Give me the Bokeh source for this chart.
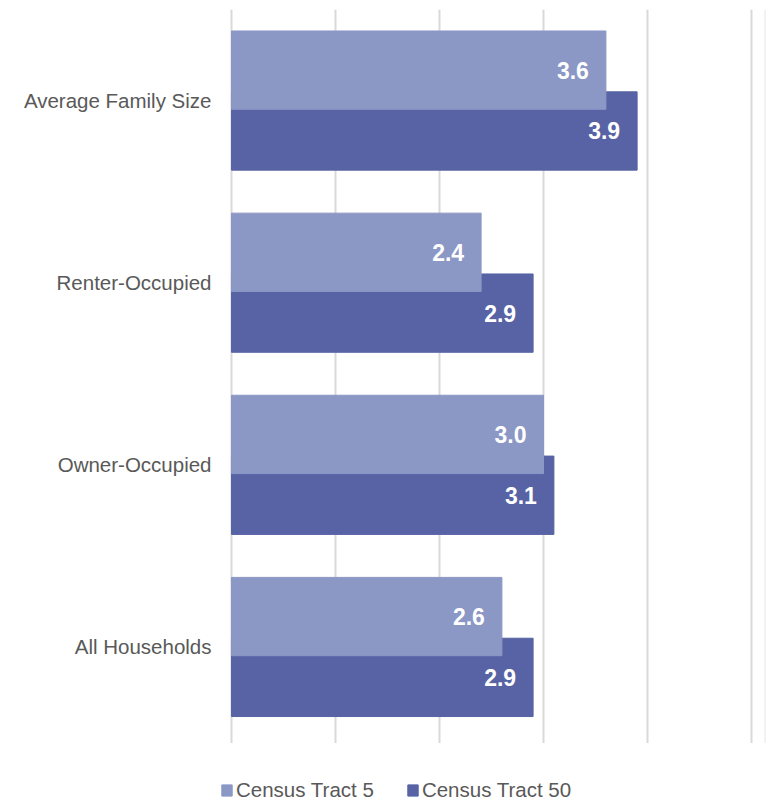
from bokeh.plotting import figure
from bokeh.layouts import column
from bokeh.models import (Range1d, FixedTicker, Legend, LegendItem,
                          ColumnDataSource, Span)
from bokeh.core.properties import value
from bokeh.embed import file_html
from bokeh.resources import INLINE

# ---- data ----
categories = ["Average Family Size", "Renter-Occupied", "Owner-Occupied", "All Households"]
tract5 = [3.6, 2.4, 3.0, 2.6]
tract50 = [3.9, 2.9, 3.1, 2.9]
series_names = ["Census Tract 5", "Census Tract 50"]
xticks = [0, 1, 2, 3, 4, 5]

# ---- styling ----
LIGHT = "#8b97c5"
DARK = "#5763a4"
SANS = "Liberation Sans"

n = len(categories)
ypos = [n - 1 - i + 0.5 for i in range(n)]
off = 0.167
h = 0.43

src5 = ColumnDataSource(dict(y=[y + off for y in ypos], v=tract5,
                             lab=[f"{v:.1f}" for v in tract5]))
src50 = ColumnDataSource(dict(y=[y - off for y in ypos], v=tract50,
                              lab=[f"{v:.1f}" for v in tract50]))

p = figure(width=766, height=743, x_range=Range1d(-0.144, 5.144), y_range=Range1d(-0.03, 4.0),
           output_backend="svg", toolbar_location=None,
           min_border_left=216, min_border_right=0, min_border_top=9, min_border_bottom=0)
p.outline_line_color = None
p.background_fill_color = "white"
p.border_fill_color = "white"

r50 = p.hbar(y="y", right="v", left=0, height=h, source=src50,
             fill_color=DARK, line_color=DARK, line_width=1)
r5 = p.hbar(y="y", right="v", left=0, height=h, source=src5,
            fill_color=LIGHT, line_color=LIGHT, line_width=1)

for src in (src50, src5):
    p.text(x="v", y="y", text="lab", source=src, x_offset=-17,
           text_align="right", text_baseline="middle", text_color="white",
           text_font=value(SANS), text_font_style="bold", text_font_size="23px")

p.add_layout(Span(location=5.13, dimension="height", line_color="#e6e6e6",
                  line_width=1, level="underlay"))

# axes / grid
p.xaxis.visible = False
p.xgrid.ticker = FixedTicker(ticks=xticks)
p.xgrid.grid_line_color = "#d9d9d9"
p.xgrid.grid_line_width = 2
p.xgrid.level = "underlay"
p.ygrid.visible = False

p.yaxis.ticker = FixedTicker(ticks=ypos)
p.yaxis.major_label_overrides = {y: c for y, c in zip(ypos, categories)}
p.yaxis.axis_line_color = None
p.yaxis.major_tick_line_color = None
p.yaxis.minor_tick_line_color = None
p.yaxis.major_tick_out = 0
p.yaxis.major_tick_in = 0
p.yaxis.major_label_standoff = 5
p.yaxis.major_label_text_font = SANS
p.yaxis.major_label_text_font_size = "20.5px"
p.yaxis.major_label_text_color = "#595959"

# ---- legend strip ----
p2 = figure(width=766, height=60, x_range=Range1d(0, 1), y_range=Range1d(0, 1),
            output_backend="svg", toolbar_location=None, min_border=0)
p2.axis.visible = False
p2.grid.visible = False
p2.outline_line_color = None
p2.border_fill_color = "white"
k5 = p2.hbar(y="y", right="v", left=0, height=h, source=src5,
             fill_color=LIGHT, line_color=LIGHT, visible=False)
k50 = p2.hbar(y="y", right="v", left=0, height=h, source=src50,
              fill_color=DARK, line_color=DARK, visible=False)

legend = Legend(items=[LegendItem(label=series_names[0], renderers=[k5]),
                       LegendItem(label=series_names[1], renderers=[k50])],
                orientation="horizontal", location=(4, 1),
                glyph_width=13, glyph_height=14, label_standoff=3, spacing=32,
                padding=0, margin=0, border_line_color=None, background_fill_alpha=0,
                label_text_font=SANS, label_text_font_size="20.5px",
                label_text_color="#595959")
p2.add_layout(legend, "center")

open("out.html", "w").write(file_html(column(p, p2, spacing=0), INLINE))
